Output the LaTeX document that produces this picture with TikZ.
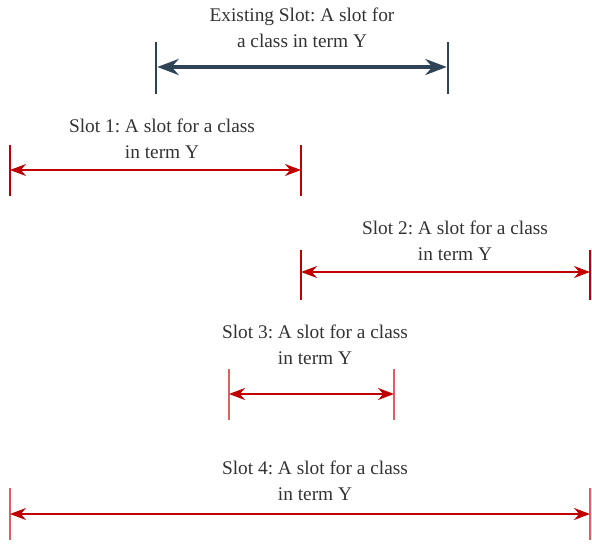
\documentclass[tikz,border=0pt]{standalone}
\usepackage{fontspec}
\setmainfont{Liberation Serif}
\usetikzlibrary{arrows.meta}
\definecolor{slate}{HTML}{2F4356}
\definecolor{redc}{HTML}{C00000}
\definecolor{redl}{HTML}{E06060}
\begin{document}
\frenchspacing
\begin{tikzpicture}[x=0.75pt,y=-0.75pt,
  lbl/.style={align=center,font=\fontsize{14.5}{19.5}\selectfont,text=black!80,inner sep=0pt},
  bar/.style={line width=1.5pt},
  span/.style={{Stealth[length=12pt,width=9pt]}-{Stealth[length=12pt,width=9pt]},line width=1.3pt}
]
\useasboundingbox (0,0) rectangle (592,545);
% Existing slot
\node[lbl] (te) at (302,28) {Existing Slot: A slot for\\a class in term Y};
\coordinate (ea) at (156,42); \coordinate (eb) at (156,94);
\coordinate (ec) at (448,42); \coordinate (ed) at (448,94);
\coordinate (el) at (156,67); \coordinate (er) at (448,67);
\draw[bar,slate,line width=2pt] (ea) -- (eb);
\draw[bar,slate,line width=2pt] (ec) -- (ed);
\draw[slate,line width=2.4pt,{Stealth[length=16pt,width=12pt]}-{Stealth[length=16pt,width=12pt]},shorten <=1pt,shorten >=1pt] (el) -- (er);
% Slot 1
\node[lbl] (t1) at (162,139) {Slot 1: A slot for a class\\in term Y};
\coordinate (a1) at (10,145); \coordinate (b1) at (10,196);
\coordinate (c1) at (301,145); \coordinate (d1) at (301,196);
\coordinate (l1) at (10,170); \coordinate (r1) at (301,170);
\draw[bar,redc] (a1) -- (b1);
\draw[bar,redc] (c1) -- (d1);
\draw[span,redc] (l1) -- (r1);
% Slot 2
\node[lbl] (t2) at (455,241) {Slot 2: A slot for a class\\in term Y};
\coordinate (a2) at (301,250); \coordinate (b2) at (301,300);
\coordinate (c2) at (590,250); \coordinate (d2) at (590,300);
\coordinate (l2) at (301,272); \coordinate (r2) at (590,272);
\draw[bar,redc] (a2) -- (b2);
\draw[bar,redc] (c2) -- (d2);
\draw[span,redc] (l2) -- (r2);
% Slot 3
\node[lbl] (t3) at (315,345) {Slot 3: A slot for a class\\in term Y};
\coordinate (a3) at (229,369); \coordinate (b3) at (229,420);
\coordinate (c3) at (394,369); \coordinate (d3) at (394,420);
\coordinate (l3) at (229,394); \coordinate (r3) at (394,394);
\draw[bar,redl] (a3) -- (b3);
\draw[bar,redl] (c3) -- (d3);
\draw[span,redc] (l3) -- (r3);
% Slot 4
\node[lbl] (t4) at (315,481) {Slot 4: A slot for a class\\in term Y};
\coordinate (a4) at (10,488); \coordinate (b4) at (10,540);
\coordinate (c4) at (590,488); \coordinate (d4) at (590,540);
\coordinate (l4) at (10,514); \coordinate (r4) at (590,514);
\draw[bar,redl] (a4) -- (b4);
\draw[bar,redl] (c4) -- (d4);
\draw[span,redc] (l4) -- (r4);
\end{tikzpicture}
\end{document}
